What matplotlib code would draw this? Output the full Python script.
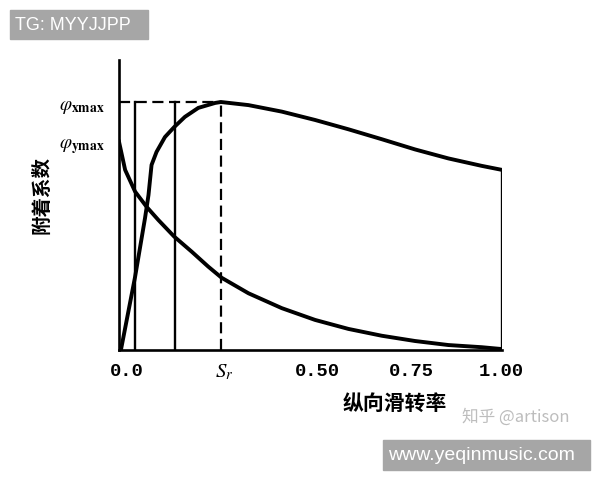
import numpy as np
import matplotlib
matplotlib.use("Agg")
import matplotlib.pyplot as plt
from matplotlib.patches import Rectangle
from matplotlib.transforms import ScaledTranslation

# ---- data (slip ratio vs adhesion coefficient) ----
# longitudinal adhesion coefficient phi_x
slip_long = [0.005, 0.042, 0.068, 0.077, 0.085, 0.098, 0.120, 0.144, 0.172,
             0.207, 0.251, 0.266, 0.338, 0.425, 0.512, 0.599, 0.686, 0.773,
             0.860, 0.947, 1.0]
phi_long = [0.0, 0.236, 0.426, 0.500, 0.597, 0.639, 0.687, 0.719, 0.752,
            0.781, 0.797, 0.800, 0.790, 0.769, 0.742, 0.712, 0.680, 0.647,
            0.618, 0.594, 0.581]

# lateral adhesion coefficient phi_y
slip_lat = [0.0, 0.016, 0.042, 0.072, 0.103, 0.144, 0.190, 0.233, 0.268,
            0.338, 0.425, 0.512, 0.599, 0.686, 0.773, 0.860, 0.947, 1.0]
phi_lat = [0.672, 0.581, 0.511, 0.462, 0.419, 0.366, 0.317, 0.269, 0.233,
           0.183, 0.135, 0.097, 0.068, 0.046, 0.029, 0.016, 0.009, 0.003]

sr = 0.266                   # slip ratio at peak
guide_x = [0.042, 0.146]     # the two solid vertical guide lines
tick_pos = [0.0, sr, 0.50, 0.75, 1.00]
tick_lab = ["0.0", r"$S_r$", "0.50", "0.75", "1.00"]
ymax = 0.9355

plt.rcParams["mathtext.fontset"] = "stix"
plt.rcParams["font.family"] = ["Noto Sans CJK SC", "DejaVu Sans"]

fig = plt.figure(figsize=(6, 4.8), dpi=100)
ax = fig.add_axes([119 / 600, 1 - 350 / 480, 383 / 600, 290 / 480])

lw = 2.8
ax.plot(slip_long, phi_long, color="black", lw=lw, solid_joinstyle="round")
ax.plot(slip_lat, phi_lat, color="black", lw=lw, solid_joinstyle="round")

pmax = max(phi_long)
p_y0 = phi_lat[0]
for gx in guide_x:
    ax.plot([gx, gx], [0, pmax], color="black", lw=1.7)
ax.plot([0, sr], [pmax, pmax], color="black", lw=1.6, ls=(0, (5, 2.5)))
ax.plot([sr, sr], [0, pmax], color="black", lw=1.6, ls=(0, (5, 2.5)))
ax.plot([1.0, 1.0], [0, phi_long[-1]], color="black", lw=2.4)

ax.set_xlim(0, 1.0)
ax.set_ylim(0, ymax)
for s in ["top", "right"]:
    ax.spines[s].set_visible(False)
for s in ["left", "bottom"]:
    ax.spines[s].set_linewidth(1.9)

ax.set_xticks(tick_pos)
ax.set_xticklabels(tick_lab, fontsize=13.5, fontweight="bold",
                   family=["Liberation Mono"])
ax.tick_params(axis="x", length=0, pad=9)
offsets = [8, 3, 7, 5, -1]
for lab, dx in zip(ax.get_xticklabels(), offsets):
    lab.set_transform(lab.get_transform() + ScaledTranslation(dx / 100, 0, fig.dpi_scale_trans))
ax.get_xticklabels()[1].set_fontsize(15)

ax.set_yticks([p_y0, pmax])
ax.set_yticklabels([r"$\varphi_{\mathbf{ymax}}$", r"$\varphi_{\mathbf{xmax}}$"], fontsize=14)
ax.tick_params(axis="y", length=0, pad=10)

fig.text(42 / 600, 1 - 195 / 480, "附着系数", rotation=90, ha="center", va="center",
         fontsize=14, fontweight="bold")
fig.text(395 / 600, 1 - 403 / 480, "纵向滑转率", ha="center", va="center",
         fontsize=15, fontweight="bold")

# watermarks
fig.patches.append(Rectangle((10 / 600, 1 - 39 / 480), 138 / 600, 29 / 480,
                             transform=fig.transFigure, color="#a6a6a6", zorder=5))
fig.text(15 / 600, 1 - 25 / 480, "TG: MYYJJPP", color="white", fontsize=13,
         family=["Liberation Sans"], ha="left", va="center", zorder=6)
fig.patches.append(Rectangle((383 / 600, 1 - 470 / 480), 207 / 600, 30 / 480,
                             transform=fig.transFigure, color="#a6a6a6", zorder=5))
fig.text(388 / 600, 1 - 455 / 480, "www.yeqinmusic.com", color="white", fontsize=14,
         family=["Liberation Sans"], ha="left", va="center", zorder=6)
fig.text(462 / 600, 1 - 417 / 480, "知乎 @artison", color="#bdbdbd", fontsize=12,
         ha="left", va="center")

fig.savefig("out.png", dpi=100)
